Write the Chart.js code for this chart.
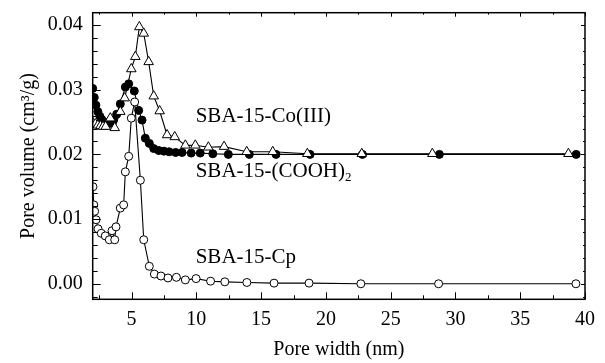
<!DOCTYPE html>
<html lang="en">
<head>
<meta charset="UTF-8">
<title>Pore width distribution</title>
<script src="https://cdn.jsdelivr.net/npm/chart.js"></script>
<style>
  html, body { margin: 0; padding: 0; background: #fff; }
  #wrap { width: 605px; height: 363px; }
</style>
</head>
<body>
<div id="wrap"><canvas id="grafica"></canvas></div>
<script>
// SBA-15-Cp (open circles)
const cpX = [2.02, 2.08, 2.15, 2.26, 2.41, 2.66, 2.97, 3.28, 3.49, 3.7, 3.8, 4.13, 4.39, 4.52, 4.78, 4.98, 5.24, 5.68, 5.94, 6.37, 6.76, 7.27, 7.81, 8.46, 9.15, 9.98, 11.1, 12.2, 13.9, 16.0, 18.7, 22.7, 28.7, 39.3];
const cpY = [0.0150, 0.0122, 0.0112, 0.0099, 0.0085, 0.0078, 0.0074, 0.0068, 0.0082, 0.0068, 0.0088, 0.0117, 0.0122, 0.0173, 0.0197, 0.0256, 0.0281, 0.0160, 0.0068, 0.0027, 0.0015, 0.0012, 0.0009, 0.0010, 0.0006, 0.0008, 0.0004, 0.0003, 0.0002, 0.0001, 0.0001, 0.0000, 0.0000, 0.0000];

// SBA-15-Co(III) (open triangles)
const coX = [2.0, 2.2, 2.4, 2.6, 2.8, 3.0, 3.36, 3.7, 4.13, 4.47, 4.98, 5.29, 5.6, 5.94, 6.32, 6.71, 7.17, 7.74, 8.33, 9.15, 9.92, 10.93, 12.14, 13.89, 15.9, 18.57, 22.77, 28.22, 38.72];
const coY = [0.0249, 0.0247, 0.0245, 0.0244, 0.0243, 0.0243, 0.0256, 0.0241, 0.0266, 0.0287, 0.0332, 0.0351, 0.0397, 0.0387, 0.0343, 0.0290, 0.0267, 0.0230, 0.0227, 0.0214, 0.0214, 0.0211, 0.0212, 0.0204, 0.0204, 0.0201, 0.0201, 0.0201, 0.0201];

// SBA-15-(COOH)2 (filled circles)
const cooX = [2.0, 2.12, 2.25, 2.4, 2.55, 2.7, 2.9, 3.1, 3.35, 3.6, 3.85, 4.13, 4.52, 4.78, 5.21, 5.55, 5.81, 6.06, 6.37, 6.71, 7.1, 7.5, 7.9, 8.4, 8.9, 9.6, 10.3, 11.27, 12.47, 14.09, 16.15, 18.78, 22.82, 28.76, 39.32];
const cooY = [0.0302, 0.0288, 0.0276, 0.0266, 0.0259, 0.0254, 0.0250, 0.0248, 0.0248, 0.0253, 0.0262, 0.0278, 0.0304, 0.0309, 0.0298, 0.0268, 0.0253, 0.0225, 0.0217, 0.0209, 0.0206, 0.0205, 0.0204, 0.0203, 0.0203, 0.0202, 0.0202, 0.0201, 0.0200, 0.0200, 0.0200, 0.0200, 0.0200, 0.0200, 0.0200];

// axis ranges and ticks
const xMin = 2, xMax = 40, xStep = 5;
const yMin = -0.0024, yMax = 0.0419, yStep = 0.01, yMinorStep = 0.002;

// text labels placed at data positions
const etiquetas = [
  { text: "SBA-15-Co(III)", x: 9.95, y: 0.0259 },
  { text: "SBA-15-(COOH)", sub: "2", x: 9.95, y: 0.0174 },
  { text: "SBA-15-Cp", x: 9.95, y: 0.0040 }
];

const serif = "'Liberation Serif', 'Times New Roman', serif";
const toPts = (xs, ys) => xs.map((v, i) => ({ x: v, y: ys[i] }));

// frame, inward ticks and curve labels
const marco = {
  id: "marco",
  afterDraw(chart) {
    const { ctx, chartArea: a, scales: { x, y } } = chart;
    ctx.save();
    ctx.strokeStyle = "#000";
    ctx.lineWidth = 1.5;
    ctx.strokeRect(a.left, a.top, a.right - a.left, a.bottom - a.top);

    ctx.lineWidth = 1;
    ctx.beginPath();
    for (let v = 2.5; v <= xMax; v += 2.5) {
      const px = Math.round(x.getPixelForValue(v)) + 0.5;
      const major = Math.abs(v % 5) < 1e-9;
      ctx.moveTo(px, a.bottom); ctx.lineTo(px, a.bottom - (major ? 7 : 4));
      ctx.moveTo(px, a.top); ctx.lineTo(px, a.top + (major ? 4 : 2));
    }
    for (let k = Math.ceil(yMin / yMinorStep); k * yMinorStep <= yMax; k++) {
      const v = k * yMinorStep;
      const py = Math.round(y.getPixelForValue(v)) + 0.5;
      const major = k % 5 === 0;
      ctx.moveTo(a.left, py); ctx.lineTo(a.left + (major ? 8 : 5), py);
      ctx.moveTo(a.right, py); ctx.lineTo(a.right - (major ? 4 : 2), py);
    }
    ctx.stroke();

    ctx.fillStyle = "#000";
    ctx.textBaseline = "middle";
    ctx.textAlign = "left";
    etiquetas.forEach(e => {
      const px = x.getPixelForValue(e.x);
      const py = y.getPixelForValue(e.y);
      ctx.font = "21px " + serif;
      ctx.fillText(e.text, px, py);
      if (e.sub) {
        const w = ctx.measureText(e.text).width;
        ctx.font = "13px " + serif;
        ctx.fillText(e.sub, px + w, py + 6);
      }
    });
    ctx.restore();
  }
};

new Chart(document.getElementById("grafica"), {
  type: "line",
  data: {
    datasets: [
      {
        label: "SBA-15-Co(III)",
        data: toPts(coX, coY),
        borderColor: "#000",
        borderWidth: 1.1,
        pointStyle: "triangle",
        pointRadius: 5.5,
        pointBackgroundColor: "#fff",
        pointBorderColor: "#000",
        pointBorderWidth: 1
      },
      {
        label: "SBA-15-Cp",
        data: toPts(cpX, cpY),
        borderColor: "#000",
        borderWidth: 1.1,
        pointStyle: "circle",
        pointRadius: 4,
        pointBackgroundColor: "#fff",
        pointBorderColor: "#000",
        pointBorderWidth: 1
      },
      {
        label: "SBA-15-(COOH)2",
        data: toPts(cooX, cooY),
        borderColor: "#000",
        borderWidth: 1.1,
        pointStyle: "circle",
        pointRadius: 4,
        pointBackgroundColor: "#000",
        pointBorderColor: "#000",
        pointBorderWidth: 1
      }
    ]
  },
  options: {
    responsive: true,
    maintainAspectRatio: false,
    animation: false,
    events: [],
    layout: { padding: { top: 12.7, right: 20, left: 8, bottom: 0 } },
    plugins: { legend: { display: false }, tooltip: { enabled: false } },
    elements: { line: { tension: 0 } },
    scales: {
      x: {
        type: "linear",
        min: xMin,
        max: xMax,
        grid: { display: false, drawTicks: false },
        border: { display: false },
        ticks: {
          stepSize: xStep,
          includeBounds: false,
          autoSkip: false,
          maxRotation: 0,
          padding: 8,
          color: "#000",
          font: { family: serif, size: 20 }
        },
        title: {
          display: true,
          text: "Pore width (nm)",
          color: "#000",
          font: { family: serif, size: 20 },
          padding: { top: 0, bottom: 1 }
        },
        afterFit(scale) {
          scale.height = 363 - 299.3;
          scale.paddingLeft = 0;
          scale.paddingRight = 0;
        }
      },
      y: {
        type: "linear",
        min: yMin,
        max: yMax,
        grid: { display: false, drawTicks: false },
        border: { display: false },
        ticks: {
          stepSize: yStep,
          includeBounds: false,
          padding: 10,
          color: "#000",
          font: { family: serif, size: 20 },
          callback: v => v.toFixed(2)
        },
        title: {
          display: true,
          text: "Pore volume (cm³/g)",
          color: "#000",
          font: { family: serif, size: 20 },
          padding: { top: 9, bottom: 0 }
        },
        afterFit(scale) {
          scale.width = 92.7 - 8;
          scale.paddingTop = 0;
          scale.paddingBottom = 0;
        }
      }
    }
  },
  plugins: [marco]
});
</script>
</body>
</html>
